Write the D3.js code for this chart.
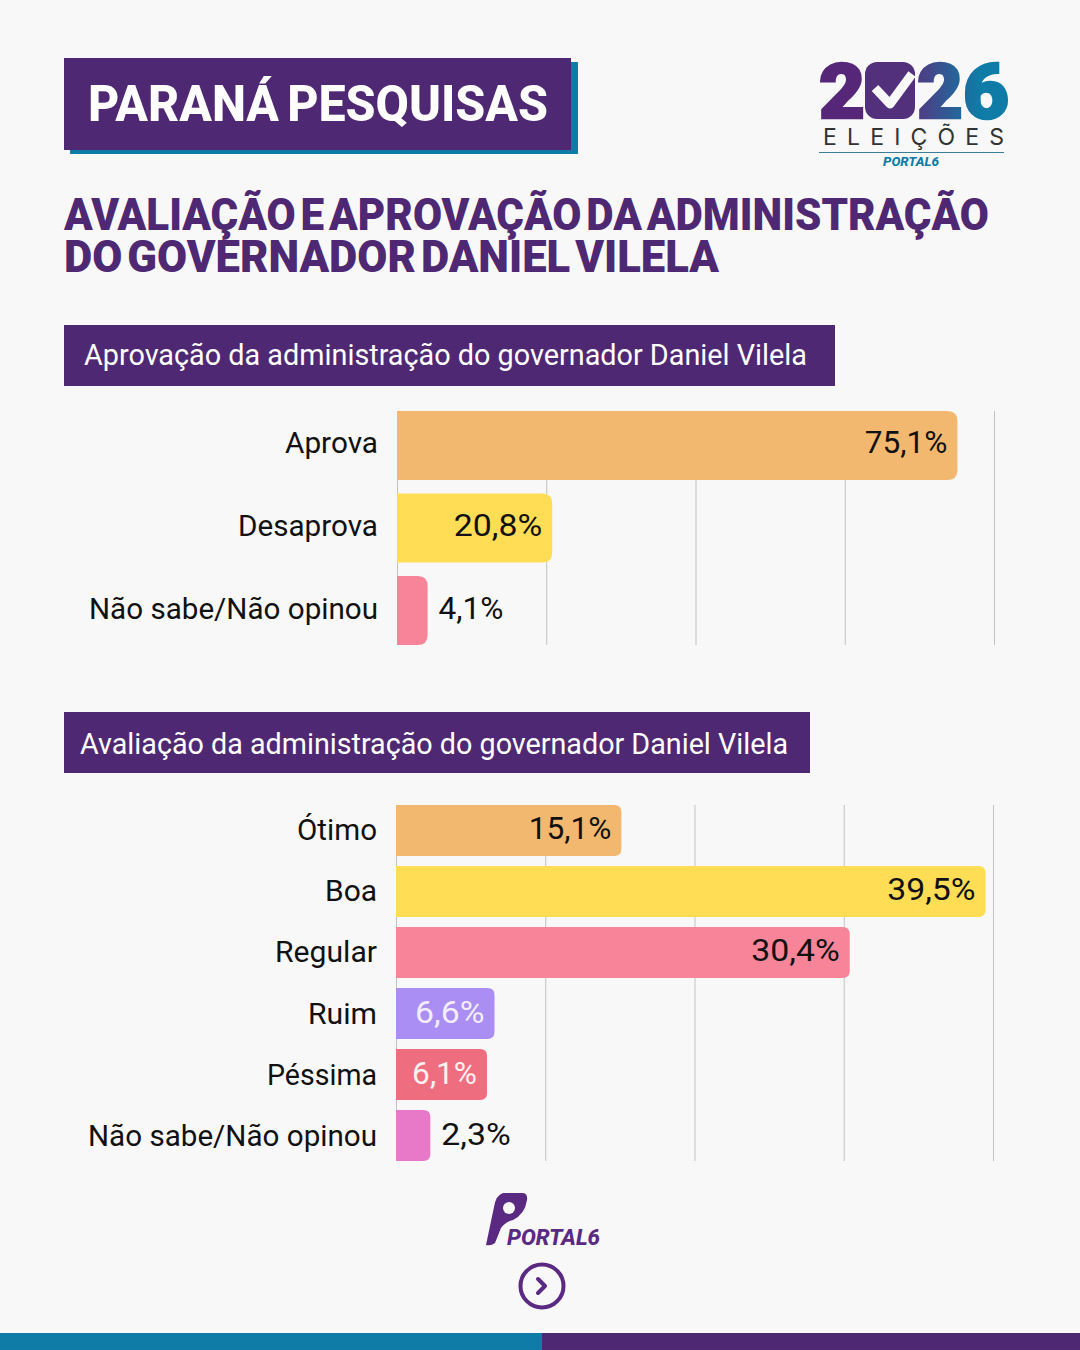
<!DOCTYPE html>
<html>
<head>
<meta charset="utf-8">
<script src="https://cdn.jsdelivr.net/npm/d3@7/dist/d3.min.js"></script>
<style>
  html, body { margin: 0; padding: 0; background: #f8f8f8; }
  svg { display: block; font-family: Roboto, sans-serif; }
</style>
</head>
<body>
<svg id="chart" width="1080" height="1350"></svg>
<script>
    var PURPLE = "#4f2873", TEAL = "#0e7ca6";

    // Aprovacao
    var approvalCategories = ["Aprova", "Desaprova", "Não sabe/Não opinou"];
    var approvalValues = [75.1, 20.8, 4.1];
    var approvalTicks = [0, 20, 40, 60, 80];
    var approvalColors = ["#f2b86f", "#ffdd55", "#f78499"];

    // Avaliacao
    var ratingCategories = ["Ótimo", "Boa", "Regular", "Ruim", "Péssima", "Não sabe/Não opinou"];
    var ratingValues = [15.1, 39.5, 30.4, 6.6, 6.1, 2.3];
    var ratingTicks = [0, 10, 20, 30, 40];
    var ratingColors = ["#f2b86f", "#ffdd55", "#f78499", "#ab8ef3", "#ee6e80", "#e878c8"];
    var ratingLabelColors = ["#111", "#111", "#111", "#f3edff", "#fff0f2", "#111"];

    var svg = d3.select("#chart");
    svg.append("rect").attr("width", 1080).attr("height", 1350).attr("fill", "#f8f8f8");

    var defs = svg.append("defs");
    var grad = defs.append("linearGradient").attr("id", "logoGrad").attr("gradientUnits", "userSpaceOnUse")
        .attr("x1", 820).attr("x2", 1008).attr("y1", 0).attr("y2", 0);
    grad.append("stop").attr("offset", "0.3").attr("stop-color", "#562678");
    grad.append("stop").attr("offset", "0.55").attr("stop-color", "#4a4187");
    grad.append("stop").attr("offset", "0.85").attr("stop-color", "#0e7ca6");

    // text squeezed to the width it has in the picture
    function fitText(g, str, x, y, size, weight, width, color, anchor) {
        var t = g.append("text")
            .attr("x", x).attr("y", y)
            .attr("font-size", size).attr("font-weight", weight)
            .attr("fill", color).attr("text-anchor", anchor || "start")
            .text(str);
        if (width) t.attr("textLength", width).attr("lengthAdjust", "spacingAndGlyphs");
        return t;
    }

    // Header
    svg.append("rect").attr("x", 70).attr("y", 62).attr("width", 508).attr("height", 92).attr("fill", TEAL);
    svg.append("rect").attr("x", 64).attr("y", 58).attr("width", 507).attr("height", 92).attr("fill", PURPLE);
    fitText(svg, "PARANÁ PESQUISAS", 88, 121, 50, 800, 460, "#fff").attr("word-spacing", -4);
    fitText(svg, "AVALIAÇÃO E APROVAÇÃO DA ADMINISTRAÇÃO", 64, 230, 45, 900, 925, PURPLE).attr("word-spacing", -6);
    fitText(svg, "DO GOVERNADOR DANIEL VILELA", 64, 272, 45, 900, 655, PURPLE).attr("word-spacing", -6);

    // 2026 logo
    var logo = svg.append("g");
    [["2", 819, 46], ["26", 917, 92]].forEach(function(d) {
        logo.append("text").attr("x", d[1]).attr("y", 118).text(d[0])
            .attr("textLength", d[2]).attr("lengthAdjust", "spacingAndGlyphs")
            .attr("font-size", 76).attr("font-weight", 900)
            .attr("fill", "url(#logoGrad)").attr("stroke", "url(#logoGrad)").attr("stroke-width", 2.5);
    });
    logo.append("rect").attr("x", 865).attr("y", 62).attr("width", 50).attr("height", 57).attr("rx", 12).attr("fill", "#52307c");
    logo.append("path").attr("d", "M875 88 L890 104 L912 74").attr("fill", "none")
        .attr("stroke", "#f8f8f8").attr("stroke-width", 9).attr("stroke-linejoin", "round");
    fitText(logo, "ELEIÇÕES", 823, 145, 23, 400, 181, "#333")
        .attr("font-family", "Inter, sans-serif").attr("lengthAdjust", "spacing");
    logo.append("line").attr("x1", 819).attr("x2", 1004).attr("y1", 152.5).attr("y2", 152.5).attr("stroke", "#3b7f97").attr("stroke-width", 1);
    fitText(logo, "PORTAL6", 883, 166, 12, 800, 56, TEAL).attr("font-style", "italic");

    // bar with rounded right side only
    function barPath(x0, x1, y, h, r) {
        var p = d3.path();
        p.moveTo(x0, y);
        p.lineTo(x1 - r, y);
        p.quadraticCurveTo(x1, y, x1, y + r);
        p.lineTo(x1, y + h - r);
        p.quadraticCurveTo(x1, y + h, x1 - r, y + h);
        p.lineTo(x0, y + h);
        p.closePath();
        return p.toString();
    }

    function drawPanel(opt) {
        var g = svg.append("g");

        g.append("rect").attr("x", 64).attr("y", opt.headY).attr("width", opt.headW).attr("height", 61).attr("fill", PURPLE);
        fitText(g, opt.title, opt.titleX, opt.headY + opt.titleDy, 30, 400, opt.titleW, "#fff");

        var x = d3.scaleLinear().domain(opt.domain).range(opt.xRange);
        var y = d3.scaleBand().domain(opt.categories).range(opt.yRange).paddingInner(opt.pad).paddingOuter(0);

        // vertical grid lines from the axis ticks
        var axis = g.append("g").attr("transform", "translate(0," + opt.yRange[0] + ")")
            .call(d3.axisBottom(x).tickValues(opt.ticks).tickSize(opt.yRange[1] - opt.yRange[0]).tickFormat(""));
        axis.select(".domain").remove();
        axis.selectAll("line").attr("stroke", "#c2c2c2").attr("stroke-width", 1);

        g.selectAll("path.bar").data(opt.values).enter().append("path")
            .attr("class", "bar")
            .attr("fill", function(d, i) { return opt.colors[i]; })
            .attr("d", function(d, i) {
                return barPath(x(0), x(d), y(opt.categories[i]), y.bandwidth(), opt.radius);
            });

        g.selectAll("text.cat").data(opt.categories).enter().append("text")
            .attr("class", "cat")
            .attr("x", opt.labelX)
            .attr("y", function(d) { return y(d) + y.bandwidth() / 2 + opt.catDy; })
            .attr("text-anchor", "end").attr("font-size", 30).attr("fill", "#111")
            .text(function(d) { return d; })
            .attr("textLength", function(d) { return opt.catWidths[d]; })
            .attr("lengthAdjust", "spacingAndGlyphs");

        g.selectAll("text.val").data(opt.values).enter().append("text")
            .attr("class", "val")
            .attr("x", function(d) { return d < opt.outsideBelow ? x(d) + 11 : x(d) - 10; })
            .attr("y", function(d, i) { return y(opt.categories[i]) + y.bandwidth() / 2 + opt.valDy; })
            .attr("text-anchor", function(d) { return d < opt.outsideBelow ? "start" : "end"; })
            .attr("font-size", 31)
            .attr("fill", function(d, i) { return opt.labelColors ? opt.labelColors[i] : "#111"; })
            .text(function(d) { return String(d).replace(".", ",") + "%"; })
            .attr("lengthAdjust", "spacingAndGlyphs")
            .attr("textLength", function(d) {
                // the 1 is narrow in the picture's font, Roboto's is not
                return this.getComputedTextLength() * (String(d).indexOf("1") >= 0 ? 1.02 : 1.09);
            });
    }

    drawPanel({
        title: "Aprovação da administração do governador Daniel Vilela",
        titleX: 84, titleW: 723, titleDy: 40, headY: 325, headW: 771,
        categories: approvalCategories, values: approvalValues, ticks: approvalTicks, colors: approvalColors,
        domain: [0, 80], xRange: [397, 994], yRange: [411, 645], pad: 0.164, radius: 10,
        labelX: 378, catDy: 8, valDy: 8, outsideBelow: 10,
        catWidths: { "Aprova": 93, "Desaprova": 140, "Não sabe/Não opinou": 289 }
    });

    drawPanel({
        title: "Avaliação da administração do governador Daniel Vilela",
        titleX: 80, titleW: 708, titleDy: 42, headY: 712, headW: 746,
        categories: ratingCategories, values: ratingValues, ticks: ratingTicks, colors: ratingColors, labelColors: ratingLabelColors,
        domain: [0, 40], xRange: [396, 993], yRange: [805, 1161], pad: 0.165, radius: 7,
        labelX: 377, catDy: 10, valDy: 9, outsideBelow: 5,
        catWidths: { "Ótimo": 80, "Boa": 52, "Regular": 102, "Ruim": 69, "Péssima": 110, "Não sabe/Não opinou": 289 }
    });

    // Portal6 footer logo
    var foot = svg.append("g");
    foot.append("path")
        .attr("d", "M503 1193 L522 1193 Q528 1193 527 1200 Q525 1214 513 1220 Q505 1222 501 1228 L495 1243 Q491 1246 486 1245 L494 1207 Q496 1195 503 1193 Z")
        .attr("fill", "#5a2a82");
    foot.append("circle").attr("cx", 509).attr("cy", 1208).attr("r", 6).attr("fill", "#f8f8f8");
    fitText(foot, "PORTAL6", 507, 1245, 22, 800, 93, "#5a2a82").attr("font-style", "italic");
    foot.append("circle").attr("cx", 542).attr("cy", 1286).attr("r", 21.5).attr("fill", "none").attr("stroke", "#5a2a82").attr("stroke-width", 4);
    foot.append("path").attr("d", "M538 1279 L545 1286 L538 1293").attr("fill", "none").attr("stroke", "#5a2a82")
        .attr("stroke-width", 4).attr("stroke-linecap", "round").attr("stroke-linejoin", "round");

    // bottom strip
    svg.append("rect").attr("x", 0).attr("y", 1333).attr("width", 542).attr("height", 17).attr("fill", TEAL);
    svg.append("rect").attr("x", 542).attr("y", 1333).attr("width", 538).attr("height", 17).attr("fill", PURPLE);
</script>
</body>
</html>
